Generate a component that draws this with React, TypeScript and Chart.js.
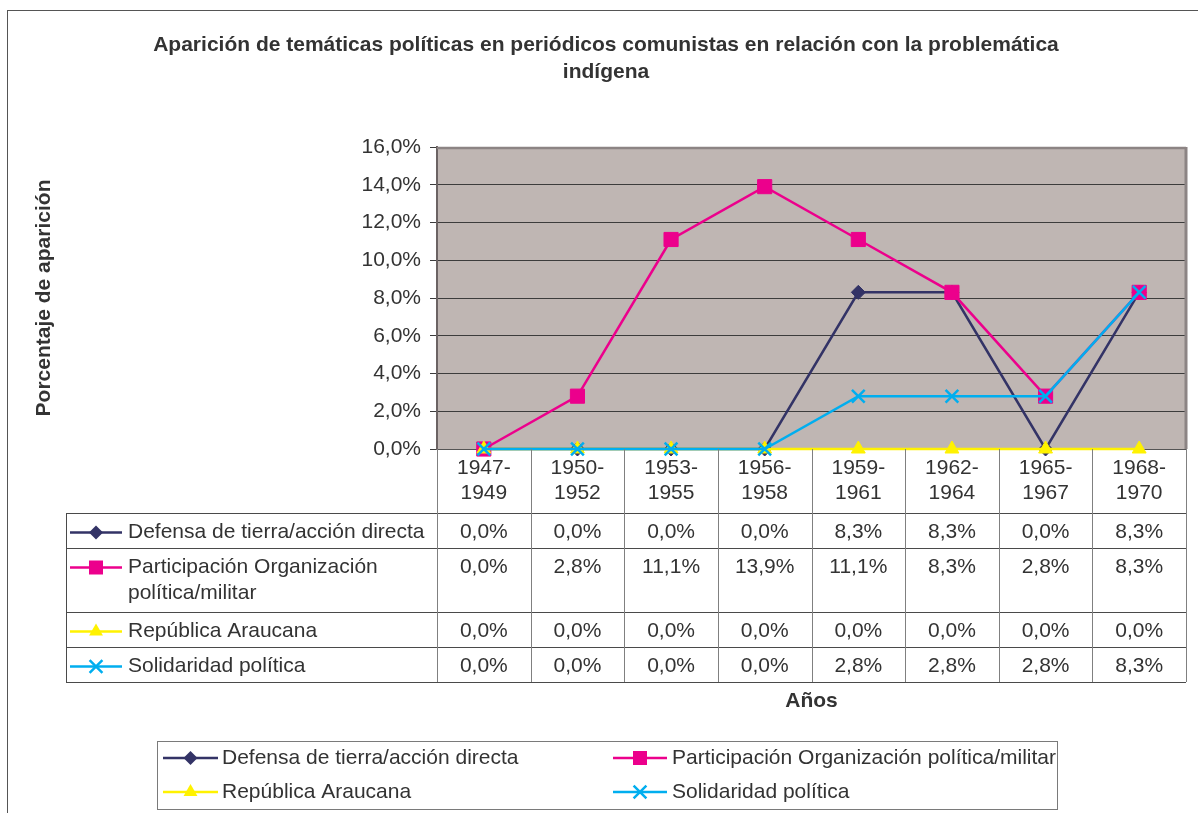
import React, { useEffect, useRef } from 'react';
import { Chart, registerables } from 'chart.js';

Chart.register(...registerables);

const titleLines = [
  'Aparición de temáticas políticas en periódicos comunistas en relación con la problemática',
  'indígena',
];
const yAxisTitle = 'Porcentaje de aparición';
const xAxisTitle = 'Años';
const categories = [
  ['1947-', '1949'],
  ['1950-', '1952'],
  ['1953-', '1955'],
  ['1956-', '1958'],
  ['1959-', '1961'],
  ['1962-', '1964'],
  ['1965-', '1967'],
  ['1968-', '1970'],
];
const seriesNames = [
  'Defensa de tierra/acción directa',
  'Participación Organización política/militar',
  'República Araucana',
  'Solidaridad política',
];
const defensa = [0, 0, 0, 0, 8.3, 8.3, 0, 8.3];
const participacion = [0, 2.8, 11.1, 13.9, 11.1, 8.3, 2.8, 8.3];
const republica = [0, 0, 0, 0, 0, 0, 0, 0];
const solidaridad = [0, 0, 0, 0, 2.8, 2.8, 2.8, 8.3];
const yMin = 0;
const yMax = 16;
const yStep = 2;

const seriesValues = [defensa, participacion, republica, solidaridad];
const colors = ['#333366', '#EC008C', '#FFF200', '#00AEEF'];
const markers = ['rectRot', 'rect', 'triangle', 'crossRot'];
const radii = [7, 10, 8, 9];

const FONT = '"Liberation Sans", Arial, Helvetica, sans-serif';
const TEXT = '#333333';

const fmt = (v: number) => v.toFixed(1).replace('.', ',') + '%';

function drawMarker(ctx: CanvasRenderingContext2D, style: string, x: number, y: number, color: string) {
  ctx.save();
  ctx.fillStyle = color;
  ctx.strokeStyle = color;
  ctx.lineWidth = 2.5;
  ctx.beginPath();
  if (style === 'rectRot') {
    const r = 7;
    ctx.moveTo(x, y - r);
    ctx.lineTo(x + r, y);
    ctx.lineTo(x, y + r);
    ctx.lineTo(x - r, y);
    ctx.closePath();
    ctx.fill();
  } else if (style === 'rect') {
    const s = 7;
    ctx.rect(x - s, y - s, 2 * s, 2 * s);
    ctx.fill();
  } else if (style === 'triangle') {
    const r = 8;
    ctx.moveTo(x, y - r);
    ctx.lineTo(x + r * 0.866, y + r / 2);
    ctx.lineTo(x - r * 0.866, y + r / 2);
    ctx.closePath();
    ctx.fill();
  } else {
    const d = 6.4;
    ctx.moveTo(x - d, y - d);
    ctx.lineTo(x + d, y + d);
    ctx.moveTo(x + d, y - d);
    ctx.lineTo(x - d, y + d);
    ctx.stroke();
  }
  ctx.restore();
}

function drawSample(ctx: CanvasRenderingContext2D, i: number, x1: number, x2: number, y: number) {
  ctx.save();
  ctx.strokeStyle = colors[i];
  ctx.lineWidth = 2.5;
  ctx.beginPath();
  ctx.moveTo(x1, y);
  ctx.lineTo(x2, y);
  ctx.stroke();
  ctx.restore();
  drawMarker(ctx, markers[i], (x1 + x2) / 2, y, colors[i]);
}

function wrap(ctx: CanvasRenderingContext2D, text: string, maxW: number) {
  const words = text.split(' ');
  const lines: string[] = [];
  let cur = '';
  for (const w of words) {
    const test = cur ? cur + ' ' + w : w;
    if (ctx.measureText(test).width > maxW && cur) {
      lines.push(cur);
      cur = w;
    } else cur = test;
  }
  if (cur) lines.push(cur);
  return lines;
}

const decorPlugin = {
  id: 'decor',
  beforeDraw(chart: any) {
    const { ctx, chartArea } = chart;
    ctx.save();
    ctx.fillStyle = '#ffffff';
    ctx.fillRect(0, 0, chart.width, chart.height);
    ctx.fillStyle = '#BFB6B3';
    ctx.fillRect(chartArea.left, chartArea.top, chartArea.right - chartArea.left, chartArea.bottom - chartArea.top);
    ctx.restore();
  },
  beforeDatasetsDraw(chart: any) {
    const { ctx, chartArea } = chart;
    ctx.save();
    ctx.strokeStyle = '#8C8484';
    ctx.lineWidth = 2.5;
    ctx.beginPath();
    ctx.moveTo(chartArea.left, chartArea.top + 1);
    ctx.lineTo(chartArea.right, chartArea.top + 1);
    ctx.stroke();
    ctx.lineWidth = 3;
    ctx.beginPath();
    ctx.moveTo(chartArea.right, chartArea.top);
    ctx.lineTo(chartArea.right, chartArea.bottom);
    ctx.stroke();
    ctx.restore();
  },
  afterDraw(chart: any) {
    const { ctx, chartArea } = chart;
    const { left, right, bottom } = chartArea;
    ctx.save();

    // outer border
    ctx.strokeStyle = '#555555';
    ctx.lineWidth = 1;
    ctx.strokeRect(7.5, 10.5, 1400, 1000);

    // title
    ctx.fillStyle = TEXT;
    ctx.font = 'bold 21px ' + FONT;
    ctx.textAlign = 'center';
    ctx.textBaseline = 'middle';
    titleLines.forEach((t, k) => ctx.fillText(t, 606, 45 + k * 27));

    // data table
    ctx.font = '21px ' + FONT;
    const n = categories.length;
    const colW = (right - left) / n;
    const tableLeft = 66;
    const headerBottom = bottom + 64;
    const rowTops: number[] = [];
    const rowLines: string[][] = [];
    let y = headerBottom;
    seriesNames.forEach((name) => {
      const lines = wrap(ctx, name, 300);
      rowTops.push(y);
      rowLines.push(lines);
      y += lines.length === 1 ? 35 : 64;
    });
    const tableBottom = y;

    ctx.strokeStyle = '#4A4A4A';
    ctx.lineWidth = 1;
    ctx.beginPath();
    [...rowTops, tableBottom].forEach((ry) => {
      ctx.moveTo(tableLeft, Math.round(ry) + 0.5);
      ctx.lineTo(right, Math.round(ry) + 0.5);
    });
    ctx.moveTo(tableLeft + 0.5, headerBottom);
    ctx.lineTo(tableLeft + 0.5, tableBottom);
    ctx.stroke();
    ctx.strokeStyle = '#808080';
    ctx.beginPath();
    for (let i = 0; i <= n; i++) {
      const x = Math.round(left + i * colW) + 0.5;
      ctx.moveTo(x, bottom);
      ctx.lineTo(x, tableBottom);
    }
    ctx.stroke();

    seriesNames.forEach((_, si) => {
      const top = rowTops[si];
      const cy = top + 19.5;
      drawSample(ctx, si, 70, 122, cy);
      ctx.fillStyle = TEXT;
      ctx.textAlign = 'left';
      ctx.textBaseline = 'middle';
      rowLines[si].forEach((ln, k) => ctx.fillText(ln, 128, cy + k * 26));
      ctx.textAlign = 'center';
      seriesValues[si].forEach((v, ci) => {
        const x = chart.scales.x.getPixelForValue(ci);
        ctx.fillText(fmt(v), x, cy);
      });
    });

    // legend box
    ctx.strokeStyle = '#7A7A7A';
    ctx.lineWidth = 1;
    ctx.strokeRect(157.5, 741.5, 900, 68);
    const legendPos = [
      { x1: 163, x2: 218, tx: 222, y: 758 },
      { x1: 613, x2: 667, tx: 672, y: 758 },
      { x1: 163, x2: 218, tx: 222, y: 792 },
      { x1: 613, x2: 667, tx: 672, y: 792 },
    ];
    seriesNames.forEach((name, si) => {
      const p = legendPos[si];
      drawSample(ctx, si, p.x1, p.x2, p.y);
      ctx.fillStyle = TEXT;
      ctx.textAlign = 'left';
      ctx.textBaseline = 'middle';
      ctx.fillText(name, p.tx, p.y);
    });

    ctx.restore();
  },
};

export default function App() {
  const ref = useRef<HTMLCanvasElement>(null);

  useEffect(() => {
    if (!ref.current) return;
    const chart = new Chart(ref.current, {
      type: 'line',
      data: {
        labels: categories,
        datasets: seriesValues.map((vals, i) => ({
          label: seriesNames[i],
          data: vals,
          borderColor: colors[i],
          backgroundColor: colors[i],
          pointBackgroundColor: colors[i],
          pointBorderColor: colors[i],
          pointStyle: markers[i] as any,
          pointRadius: radii[i],
          pointBorderWidth: i === 3 ? 2.5 : 1,
          borderWidth: 2.5,
          tension: 0,
          order: 4 - i,
          clip: false as any,
        })),
      },
      options: {
        responsive: false,
        animation: false,
        events: [],
        layout: { padding: { top: 147, left: 0, right: 12, bottom: 0 } },
        plugins: {
          legend: { display: false },
          title: { display: false },
          tooltip: { enabled: false },
        },
        scales: {
          x: {
            type: 'category',
            offset: true,
            grid: { display: false, drawTicks: false },
            border: { display: true, color: '#555555', width: 1 },
            ticks: {
              color: TEXT,
              font: { family: FONT, size: 21, lineHeight: 25 / 21 },
              padding: 6.5,
              maxRotation: 0,
              autoSkip: false,
            },
            title: {
              display: true,
              text: xAxisTitle,
              color: TEXT,
              font: { family: FONT, size: 21, weight: 'bold', lineHeight: 1.2 },
              padding: { top: 0, bottom: 99.4 },
            },
            afterFit: (scale: any) => {
              scale.height = 364;
            },
          },
          y: {
            min: yMin,
            max: yMax,
            ticks: {
              stepSize: yStep,
              color: TEXT,
              font: { family: FONT, size: 21 },
              padding: 9,
              callback: (v: any) => fmt(Number(v)),
            },
            grid: { color: '#3C3C3C', lineWidth: 1, tickLength: 7, drawTicks: true },
            border: { display: true, color: '#6B6363', width: 2 },
            title: {
              display: true,
              text: yAxisTitle,
              color: TEXT,
              font: { family: FONT, size: 21, weight: 'bold', lineHeight: 1.2 },
              padding: { top: 31.4, bottom: 0 },
            },
            afterFit: (scale: any) => {
              scale.width = 437;
            },
          },
        },
      },
      plugins: [decorPlugin],
    });
    return () => chart.destroy();
  }, []);

  return (
    <div style={{ position: 'fixed', left: 0, top: 0, width: 1198, height: 813, background: '#fff' }}>
      <canvas ref={ref} width={1198} height={813} style={{ display: 'block', width: 1198, height: 813 }} />
    </div>
  );
}
